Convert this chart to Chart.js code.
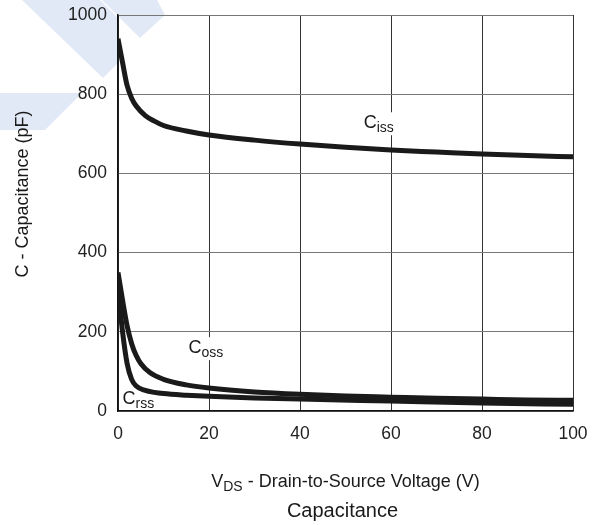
<!DOCTYPE html>
<html lang="en">
<head>
<meta charset="UTF-8">
<title>Capacitance</title>
<script src="https://cdn.jsdelivr.net/npm/chart.js"></script>
<style>
    html, body { margin: 0; padding: 0; background: #fff; }
    canvas { display: block; }
</style>
</head>
<body>
<canvas id="capChart" width="600" height="525"></canvas>
<script>
    // values (V in volts, C in pF)
    const vdsIss = [0, 1, 2, 3, 4, 6, 8, 10, 15, 20, 30, 40, 50, 60, 70, 80, 90, 100];
    const ciss   = [940, 880, 822, 790, 770, 746, 732, 721, 707, 697, 684, 674, 666, 659, 654, 649, 645, 642];

    const vdsOss = [0, 1, 2, 3, 4, 5, 7, 10, 15, 20, 30, 40, 50, 60, 70, 80, 90, 100];
    const coss   = [350, 280, 215, 170, 140, 120, 97, 80, 66, 58, 48, 42, 38, 35, 32, 30, 28, 27];

    const vdsRss = [0, 1, 2, 3, 4, 6, 8, 10, 15, 20, 30, 40, 60, 80, 100];
    const crss   = [310, 200, 120, 80, 63, 52, 47, 44, 40, 37, 33, 30, 25, 20, 17];

    const xTicks = [0, 20, 40, 60, 80, 100];
    const yTicks = [0, 200, 400, 600, 800, 1000];

    const FONT = '"Liberation Sans", Arial, Helvetica, sans-serif';

    function toPoints(xs, ys) {
        return xs.map((x, i) => ({ x: x, y: ys[i] }));
    }

    // draws main text + subscript (+ rest), left aligned at x
    function subText(ctx, x, y, main, sub, rest, size, subSize, drop) {
        ctx.font = size + 'px ' + FONT;
        ctx.fillText(main, x, y);
        let w = ctx.measureText(main).width;
        ctx.font = subSize + 'px ' + FONT;
        ctx.fillText(sub, x + w, y + drop);
        w += ctx.measureText(sub).width;
        if (rest) {
            ctx.font = size + 'px ' + FONT;
            ctx.fillText(rest, x + w, y);
        }
    }

    function subWidth(ctx, main, sub, rest, size, subSize) {
        ctx.font = size + 'px ' + FONT;
        let w = ctx.measureText(main).width + ctx.measureText(rest || '').width;
        ctx.font = subSize + 'px ' + FONT;
        return w + ctx.measureText(sub).width;
    }

    const decorations = {
        id: 'decorations',
        beforeDraw(chart) {
            const ctx = chart.ctx;
            ctx.save();
            ctx.fillStyle = '#fff';
            ctx.fillRect(0, 0, chart.width, chart.height);
            // faint watermark in the top-left corner
            ctx.fillStyle = '#e2e9f6';
            const shapes = [
                [[22, 0], [100, 0], [118, 18], [118, 63], [103, 78]],
                [[102, 0], [157, 0], [165, 15], [140, 38]],
                [[0, 93], [82, 93], [45, 130], [0, 130]]
            ];
            shapes.forEach(s => {
                ctx.beginPath();
                ctx.moveTo(s[0][0], s[0][1]);
                s.slice(1).forEach(p => ctx.lineTo(p[0], p[1]));
                ctx.closePath();
                ctx.fill();
            });
            ctx.restore();
        },
        afterDatasetsDraw(chart) {
            const ctx = chart.ctx;
            const xs = chart.scales.x, ys = chart.scales.y;
            const labels = [
                { v: 54, c: 714, sub: 'iss', box: true },
                { v: 15.5, c: 146, sub: 'oss', box: true },
                { v: 1.0, c: 18, sub: 'rss', box: false }
            ];
            ctx.save();
            ctx.textBaseline = 'alphabetic';
            labels.forEach(l => {
                const px = xs.getPixelForValue(l.v);
                const py = ys.getPixelForValue(l.c);
                if (l.box) {
                    const w = subWidth(ctx, 'C', l.sub, '', 18, 14);
                    ctx.fillStyle = '#fff';
                    ctx.fillRect(px - 2, py - 16, w + 4, 23);
                }
                ctx.fillStyle = '#1a1a1a';
                subText(ctx, px, py, 'C', l.sub, '', 18, 14, 4);
            });
            ctx.restore();
        },
        afterDraw(chart) {
            const ctx = chart.ctx;
            const area = chart.chartArea;
            const cx = (area.left + area.right) / 2;
            ctx.save();
            ctx.fillStyle = '#1a1a1a';
            ctx.textBaseline = 'alphabetic';
            ctx.textAlign = 'left';
            // x axis title
            const xw = subWidth(ctx, 'V', 'DS', ' - Drain-to-Source Voltage (V)', 18, 14);
            subText(ctx, cx - xw / 2, 487, 'V', 'DS', ' - Drain-to-Source Voltage (V)', 18, 14, 4);
            // chart caption
            ctx.textAlign = 'center';
            ctx.font = '20px ' + FONT;
            ctx.fillText('Capacitance', cx - 3, 517);
            // y axis title
            ctx.translate(28, 194);
            ctx.rotate(-Math.PI / 2);
            ctx.font = '18px ' + FONT;
            ctx.fillText('C - Capacitance (pF)', 0, 0);
            ctx.restore();
        }
    };

    const lineStyle = {
        borderColor: '#1a1a1a',
        borderWidth: 5,
        pointRadius: 0,
        fill: false,
        cubicInterpolationMode: 'monotone',
        borderJoinStyle: 'round'
    };

    const ctxCap = document.getElementById('capChart').getContext('2d');
    const capChart = new Chart(ctxCap, {
        type: 'line',
        data: {
            datasets: [
                Object.assign({ label: 'Ciss', data: toPoints(vdsIss, ciss) }, lineStyle),
                Object.assign({ label: 'Coss', data: toPoints(vdsOss, coss) }, lineStyle),
                Object.assign({ label: 'Crss', data: toPoints(vdsRss, crss) }, lineStyle)
            ]
        },
        options: {
            responsive: false,
            animation: false,
            layout: { padding: { left: 0, right: 27, top: 15, bottom: 0 } },
            plugins: {
                legend: { display: false },
                tooltip: { enabled: false }
            },
            scales: {
                x: {
                    type: 'linear',
                    min: 0,
                    max: 100,
                    afterFit(scale) {
                        scale.height = 114;
                        scale.paddingLeft = 0;
                        scale.paddingRight = 0;
                    },
                    afterBuildTicks(scale) { scale.ticks = xTicks.map(v => ({ value: v })); },
                    grid: { color: '#333', lineWidth: 1, drawTicks: false },
                    border: { color: '#111', width: 1.5 },
                    ticks: {
                        color: '#222',
                        padding: 13,
                        maxRotation: 0,
                        callback: v => String(v),
                        font: { family: FONT, size: 17.5 }
                    }
                },
                y: {
                    type: 'linear',
                    min: 0,
                    max: 1000,
                    afterFit(scale) {
                        scale.width = 118;
                        scale.paddingTop = 0;
                        scale.paddingBottom = 0;
                    },
                    afterBuildTicks(scale) { scale.ticks = yTicks.map(v => ({ value: v })); },
                    grid: { color: '#777', lineWidth: 1, drawTicks: false },
                    border: { color: '#111', width: 1.5 },
                    ticks: {
                        color: '#222',
                        padding: 11,
                        callback: v => String(v),
                        font: { family: FONT, size: 17.5 }
                    }
                }
            }
        },
        plugins: [decorations]
    });
</script>
</body>
</html>
